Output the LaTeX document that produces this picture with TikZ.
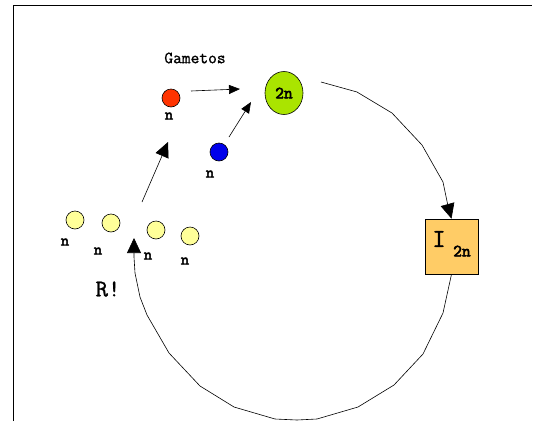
\documentclass[tikz,border=0pt]{standalone}
\usepackage{fontspec}
\setmonofont{Latin Modern Mono}[BoldFont={Latin Modern Mono},
  BoldFeatures={FakeBold=3}]
\newfontfamily\medtt{Latin Modern Mono}[FakeBold=1.2]
\usetikzlibrary{arrows.meta,shapes.geometric,positioning}

\definecolor{gamRed}{RGB}{255,51,0}
\definecolor{gamBlue}{RGB}{0,0,235}
\definecolor{zygGreen}{RGB}{170,228,0}
\definecolor{sporeYel}{RGB}{255,255,153}
\definecolor{boxOrange}{RGB}{255,204,102}

\tikzset{
  cell/.style={circle,draw,line width=0.6pt,minimum size=18pt,inner sep=0pt},
  lbl/.style={font=\ttfamily\bfseries\fontsize{16}{16}\selectfont,inner sep=0pt},
  bigtip/.style={-{Triangle[length=15pt,width=14pt]}},
  garrow/.style={-{Triangle[length=11pt,width=9pt]},line width=0.6pt},
  cycleline/.style={line width=0.6pt}
}

% name, x, y, colour, label x, label y
\newcommand{\CellN}[6]{
  \node[cell,fill=#4] (#1) at (#2,#3) {};
  \node[lbl] (#1n) at (#5,#6) {n};
}

\begin{document}
\begin{tikzpicture}[x=1pt,y=-1pt]
  \useasboundingbox (0,0) rectangle (533,421);
  % frame
  \draw[line width=1pt] (13,421) -- (13,5) -- (532,5);

  \node[font=\medtt\fontsize{17}{17}\selectfont] (gam) at (195,58) {Gametos};

  % gametes
  \CellN{red}{171}{98}{gamRed}{169}{116}
  \CellN{blue}{219}{152}{gamBlue}{210}{174}

  % spores
  \foreach \nm/\x/\y/\lx/\ly in {s1/75/220/65/242, s2/111/223/98/251,
                                 s3/156/230/148/256, s4/190/236/185/261}{
    \CellN{\nm}{\x}{\y}{sporeYel}{\lx}{\ly}
  }

  % zygote
  \node[ellipse,draw,line width=0.6pt,fill=zygGreen,minimum width=38pt,
        minimum height=43pt,inner sep=0pt,
        font=\ttfamily\bfseries\fontsize{17}{17}\selectfont] (zyg) at (284,93) {2n};

  % diploid individual
  \node[draw,line width=0.6pt,fill=boxOrange,minimum width=53pt,
        minimum height=55pt,inner sep=0pt] (ind) at (451.5,246.5) {};
  \node[font=\medtt\fontsize{26}{26}\selectfont] (indI) at (439,239) {I};
  \node[font=\ttfamily\bfseries\fontsize{17}{17}\selectfont] (ind2n) at (462,251) {2n};

  \node[font=\medtt\fontsize{24}{24}\selectfont] (rm) at (108,289) {R!};

  % fecundacao
  \draw[garrow] ([shift={(20,-7)}]red.center) -- ([shift={(-44,-4)}]zyg.center);
  \draw[garrow] ([shift={(10,-15)}]blue.center) -- ([shift={(-33,9)}]zyg.center);

  % ciclo
  \draw[cycleline,bigtip] ([shift={(37,-11)}]zyg.center) -- (357,92) -- (392,113)
    -- (422,145) -- (443,182) -- (448,206) -- (ind.north);
  \coordinate (rtip) at (134,238);
  \draw[cycleline,bigtip] (ind.south) -- (443,313) -- (423,354) -- (394,385)
    -- (358,407) -- (317,419) -- (297,420) -- (275,419) -- (234,407) -- (200,386)
    -- (169,353) -- (147,315) -- (140,297) -- (135,273) -- (134,257) -- (rtip);

  % meiose
  \coordinate (mA) at (142,202);
  \coordinate (mB) at (168,142);
  \draw[cycleline,bigtip] (mA) -- (mB);
\end{tikzpicture}
\end{document}
